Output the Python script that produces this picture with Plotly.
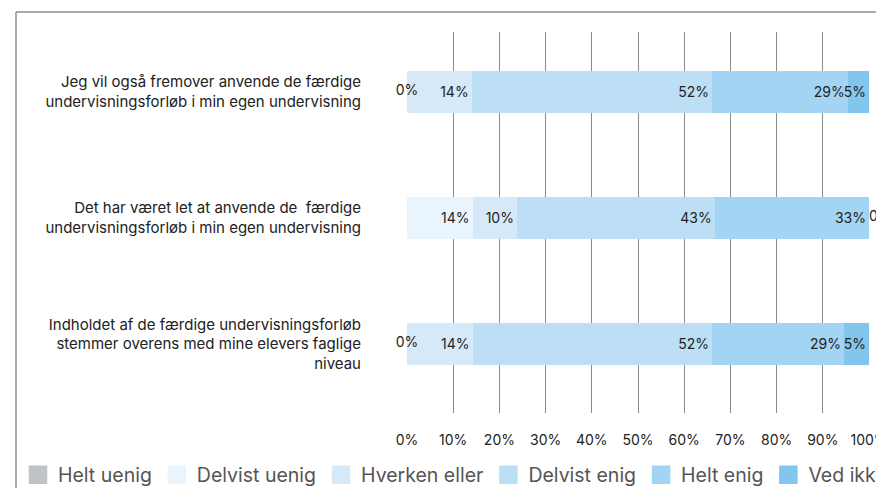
import plotly.graph_objects as go

# ---------------- data ----------------
categories = [
    "Jeg vil også fremover anvende de færdige<br>undervisningsforløb i min egen undervisning",
    "Det har været let at anvende de  færdige<br>undervisningsforløb i min egen undervisning",
    "Indholdet af de færdige undervisningsforløb<br>stemmer overens med mine elevers faglige<br>niveau",
]
series_names = ["Helt uenig", "Delvist uenig", "Hverken eller", "Delvist enig", "Helt enig", "Ved ikke"]
helt_uenig = [0, None, 0]
delvist_uenig = [None, 14.2, None]
hverken_eller = [14.0, 9.6, 14.2]
delvist_enig = [52.0, 42.8, 51.8]
helt_enig = [29.4, 33.4, 28.6]
ved_ikke = [4.6, 0, 5.4]
x_tick_values = [0, 10, 20, 30, 40, 50, 60, 70, 80, 90, 100]
x_tick_labels = ["0%", "10%", "20%", "30%", "40%", "50%", "60%", "70%", "80%", "90%", "100%"]

series_values = [helt_uenig, delvist_uenig, hverken_eller, delvist_enig, helt_enig, ved_ikke]
colors = ["#bfc3c7", "#eaf4fd", "#d6e9f9", "#bddff6", "#a3d4f3", "#82c6ee"]

# ---------------- layout constants (figure pixels) ----------------
# the figure is wider than the window, so its right part is cropped like the reference
W, H = 960, 488
ML, MR, MT, MB = 399, 0, 24, 83
PLOT_RIGHT = 861
GS_W = W - ML - MR
GS_H = H - MT - MB
LABEL_FONT = "Inter, 'Noto Sans', sans-serif"
CAT_FONT = "Inter, 'Liberation Sans', Arial, sans-serif"


def px_x(px):
    return (px - ML) / GS_W


def px_y(py):
    return (H - MB - py) / GS_H


fig = go.Figure()

# bars
for name, vals, col in zip(series_names, series_values, colors):
    texts = [("" if v is None or v == 0 else f"{v:.0f}%") for v in vals]
    fig.add_trace(go.Bar(
        y=categories, x=vals, orientation="h", name=name,
        marker=dict(color=col, line=dict(width=0)),
        text=texts, textposition="inside", insidetextanchor="end",
        textangle=0, constraintext="none",
        textfont=dict(family=LABEL_FONT, size=14, color="#222222"),
        showlegend=False, legendgroup=name, hoverinfo="x+name",
    ))

# labels for zero-valued segments
zx, zy, zt, zp = [], [], [], []
for i, cat in enumerate(categories):
    cum = 0.0
    for vals in series_values:
        v = vals[i]
        if v is None:
            continue
        if v == 0:
            zx.append(cum)
            zy.append(cat)
            zt.append("0%")
            zp.append("middle right" if cum >= 100 else "middle center")
        cum += v
fig.add_trace(go.Scatter(
    x=zx, y=zy, text=zt, mode="text", textposition=zp, cliponaxis=False,
    textfont=dict(family=LABEL_FONT, size=14, color="#222222"),
    showlegend=False, hoverinfo="skip",
))

# legend entries
for name, col in zip(series_names, colors):
    fig.add_trace(go.Scatter(
        x=[None], y=[None], mode="markers", name=name, legendgroup=name,
        marker=dict(symbol="square", size=16, color=col, line=dict(color=col, width=2.5)),
    ))

# frame lines
fig.add_shape(type="line", xref="paper", yref="paper",
              x0=px_x(8), x1=px_x(8), y0=px_y(4), y1=px_y(H + 5),
              line=dict(color="#8c8c8c", width=1.5))
fig.add_shape(type="line", xref="paper", yref="paper",
              x0=px_x(8), x1=px_x(W + 5), y0=px_y(4), y1=px_y(4),
              line=dict(color="#8c8c8c", width=1.5))

fig.update_layout(
    width=W, height=H,
    margin=dict(l=ML, r=MR, t=MT, b=MB, pad=0, autoexpand=False),
    barmode="stack", bargap=0.667,
    paper_bgcolor="white", plot_bgcolor="white",
    showlegend=True,
    legend=dict(
        orientation="h", x=px_x(10), xanchor="left", y=px_y(467), yanchor="middle",
        font=dict(family=CAT_FONT, size=19.5, color="#555555"),
        itemwidth=30, bgcolor="rgba(0,0,0,0)", traceorder="normal",
        itemclick=False, itemdoubleclick=False,
    ),
    xaxis=dict(
        domain=[0, (PLOT_RIGHT - ML) / GS_W], range=[0, 100], automargin=False,
        tickvals=x_tick_values, ticktext=x_tick_labels,
        showgrid=True, gridcolor="#8a8a8a", gridwidth=1, zeroline=False,
        showline=False, ticks="outside", ticklen=14, tickcolor="rgba(0,0,0,0)",
        tickfont=dict(family=LABEL_FONT, size=14, color="#222222"),
        fixedrange=True,
    ),
    yaxis=dict(
        type="category", categoryorder="array", categoryarray=categories,
        range=[2.548, -0.476], automargin=False,
        showgrid=False, zeroline=False, showline=False,
        ticks="outside", ticklen=42, tickcolor="rgba(0,0,0,0)",
        tickfont=dict(family=CAT_FONT, size=15, color="#222222"),
        fixedrange=True,
    ),
)

fig.write_html("out.html")
